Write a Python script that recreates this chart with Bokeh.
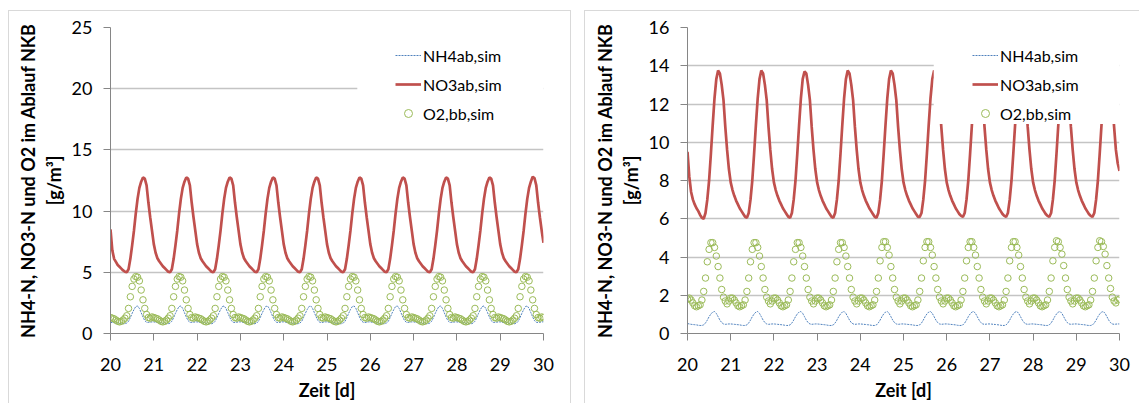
from bokeh.plotting import figure
from bokeh.models import (Range1d, FixedTicker, Legend, LegendItem, BoxAnnotation)
from bokeh.layouts import row
from bokeh.embed import file_html
from bokeh.resources import INLINE

# ---------------- data (hourly values, Tag 20 .. 30) ----------------
zeit = [20 + h / 24 for h in range(241)]

x_ticks = [20, 21, 22, 23, 24, 25, 26, 27, 28, 29, 30]
y_ticks_links = [0, 5, 10, 15, 20, 25]
y_ticks_rechts = [0, 2, 4, 6, 8, 10, 12, 14, 16]

# left chart
no3_links = [
    8.5, 6.8, 6.1, 5.85, 5.6, 5.45, 5.3, 5.15, 5.05, 5.0, 5.25, 6.1, 7.2, 8.4, 9.8, 11.0, 11.9, 12.4, 12.75, 12.65, 12.1, 10.7, 9.5, 8.4,
    7.3, 6.6, 6.15, 5.9, 5.7, 5.5, 5.35, 5.2, 5.05, 5.0, 5.25, 6.1, 7.2, 8.4, 9.8, 11.0, 11.9, 12.4, 12.75, 12.65, 12.1, 10.7, 9.5, 8.4,
    7.3, 6.6, 6.15, 5.9, 5.7, 5.5, 5.35, 5.2, 5.05, 5.0, 5.25, 6.1, 7.2, 8.4, 9.8, 11.0, 11.9, 12.4, 12.75, 12.65, 12.1, 10.7, 9.5, 8.4,
    7.3, 6.6, 6.15, 5.9, 5.7, 5.5, 5.35, 5.2, 5.05, 5.0, 5.25, 6.1, 7.2, 8.4, 9.8, 11.0, 11.9, 12.4, 12.75, 12.65, 12.1, 10.7, 9.5, 8.4,
    7.3, 6.6, 6.15, 5.9, 5.7, 5.5, 5.35, 5.2, 5.05, 5.0, 5.25, 6.1, 7.2, 8.4, 9.8, 11.0, 11.9, 12.4, 12.75, 12.65, 12.1, 10.7, 9.5, 8.4,
    7.3, 6.6, 6.15, 5.9, 5.7, 5.5, 5.35, 5.2, 5.05, 5.0, 5.25, 6.1, 7.2, 8.4, 9.8, 11.0, 11.9, 12.4, 12.75, 12.65, 12.1, 10.7, 9.5, 8.4,
    7.3, 6.6, 6.15, 5.9, 5.7, 5.5, 5.35, 5.2, 5.05, 5.0, 5.25, 6.1, 7.2, 8.4, 9.8, 11.0, 11.9, 12.4, 12.75, 12.65, 12.1, 10.7, 9.5, 8.4,
    7.3, 6.6, 6.15, 5.9, 5.7, 5.5, 5.35, 5.2, 5.05, 5.0, 5.25, 6.1, 7.2, 8.4, 9.8, 11.0, 11.9, 12.4, 12.75, 12.65, 12.1, 10.7, 9.5, 8.4,
    7.3, 6.6, 6.15, 5.9, 5.7, 5.5, 5.35, 5.2, 5.05, 5.0, 5.25, 6.1, 7.2, 8.4, 9.8, 11.0, 11.9, 12.4, 12.75, 12.65, 12.1, 10.7, 9.5, 8.4,
    7.3, 6.6, 6.15, 5.9, 5.7, 5.5, 5.35, 5.2, 5.05, 5.0, 5.25, 6.1, 7.2, 8.4, 9.8, 11.0, 11.9, 12.4, 12.8, 12.7, 12.1, 10.7, 9.5, 8.4,
    7.4,
]
o2_links = [
    1.3, 1.25, 1.2, 1.1, 1.0, 0.95, 1.0, 1.1, 1.25, 1.45, 2.05, 3.0, 3.85, 4.45, 4.65, 4.6, 4.3, 3.55, 2.75, 2.05, 1.55, 1.3, 1.25, 1.35,
    1.3, 1.25, 1.2, 1.1, 1.0, 0.95, 1.0, 1.1, 1.25, 1.45, 2.05, 3.0, 3.85, 4.45, 4.65, 4.6, 4.3, 3.55, 2.75, 2.05, 1.55, 1.3, 1.25, 1.35,
    1.3, 1.25, 1.2, 1.1, 1.0, 0.95, 1.0, 1.1, 1.25, 1.45, 2.05, 3.0, 3.85, 4.45, 4.65, 4.6, 4.3, 3.55, 2.75, 2.05, 1.55, 1.3, 1.25, 1.35,
    1.3, 1.25, 1.2, 1.1, 1.0, 0.95, 1.0, 1.1, 1.25, 1.45, 2.05, 3.0, 3.85, 4.45, 4.65, 4.6, 4.3, 3.55, 2.75, 2.05, 1.55, 1.3, 1.25, 1.35,
    1.3, 1.25, 1.2, 1.1, 1.0, 0.95, 1.0, 1.1, 1.25, 1.45, 2.05, 3.0, 3.85, 4.45, 4.65, 4.6, 4.3, 3.55, 2.75, 2.05, 1.55, 1.3, 1.25, 1.35,
    1.3, 1.25, 1.2, 1.1, 1.0, 0.95, 1.0, 1.1, 1.25, 1.45, 2.05, 3.0, 3.85, 4.45, 4.65, 4.6, 4.3, 3.55, 2.75, 2.05, 1.55, 1.3, 1.25, 1.35,
    1.3, 1.25, 1.2, 1.1, 1.0, 0.95, 1.0, 1.1, 1.25, 1.45, 2.05, 3.0, 3.85, 4.45, 4.65, 4.6, 4.3, 3.55, 2.75, 2.05, 1.55, 1.3, 1.25, 1.35,
    1.3, 1.25, 1.2, 1.1, 1.0, 0.95, 1.0, 1.1, 1.25, 1.45, 2.05, 3.0, 3.85, 4.45, 4.65, 4.6, 4.3, 3.55, 2.75, 2.05, 1.55, 1.3, 1.25, 1.35,
    1.3, 1.25, 1.2, 1.1, 1.0, 0.95, 1.0, 1.1, 1.25, 1.45, 2.05, 3.0, 3.85, 4.45, 4.65, 4.6, 4.3, 3.55, 2.75, 2.05, 1.55, 1.3, 1.25, 1.35,
    1.3, 1.25, 1.2, 1.1, 1.0, 0.95, 1.0, 1.1, 1.25, 1.45, 2.05, 3.0, 3.85, 4.45, 4.65, 4.6, 4.3, 3.55, 2.75, 2.05, 1.55, 1.3, 1.25, 1.35,
    1.3,
]
nh4_links = [
    0.9, 0.9, 0.88, 0.86, 0.85, 0.84, 0.82, 0.8, 0.8, 0.85, 1.0, 1.3, 1.65, 1.95, 2.2, 2.25, 2.05, 1.7, 1.35, 1.05, 0.92, 0.9, 0.92, 0.95,
    0.95, 0.92, 0.9, 0.88, 0.86, 0.84, 0.82, 0.8, 0.8, 0.85, 1.0, 1.3, 1.65, 1.95, 2.2, 2.25, 2.05, 1.7, 1.35, 1.05, 0.92, 0.9, 0.92, 0.95,
    0.95, 0.92, 0.9, 0.88, 0.86, 0.84, 0.82, 0.8, 0.8, 0.85, 1.0, 1.3, 1.65, 1.95, 2.2, 2.25, 2.05, 1.7, 1.35, 1.05, 0.92, 0.9, 0.92, 0.95,
    0.95, 0.92, 0.9, 0.88, 0.86, 0.84, 0.82, 0.8, 0.8, 0.85, 1.0, 1.3, 1.65, 1.95, 2.2, 2.25, 2.05, 1.7, 1.35, 1.05, 0.92, 0.9, 0.92, 0.95,
    0.95, 0.92, 0.9, 0.88, 0.86, 0.84, 0.82, 0.8, 0.8, 0.85, 1.0, 1.3, 1.65, 1.95, 2.2, 2.25, 2.05, 1.7, 1.35, 1.05, 0.92, 0.9, 0.92, 0.95,
    0.95, 0.92, 0.9, 0.88, 0.86, 0.84, 0.82, 0.8, 0.8, 0.85, 1.0, 1.3, 1.65, 1.95, 2.2, 2.25, 2.05, 1.7, 1.35, 1.05, 0.92, 0.9, 0.92, 0.95,
    0.95, 0.92, 0.9, 0.88, 0.86, 0.84, 0.82, 0.8, 0.8, 0.85, 1.0, 1.3, 1.65, 1.95, 2.2, 2.25, 2.05, 1.7, 1.35, 1.05, 0.92, 0.9, 0.92, 0.95,
    0.95, 0.92, 0.9, 0.88, 0.86, 0.84, 0.82, 0.8, 0.8, 0.85, 1.0, 1.3, 1.65, 1.95, 2.2, 2.25, 2.05, 1.7, 1.35, 1.05, 0.92, 0.9, 0.92, 0.95,
    0.95, 0.92, 0.9, 0.88, 0.86, 0.84, 0.82, 0.8, 0.8, 0.85, 1.0, 1.3, 1.65, 1.95, 2.2, 2.25, 2.05, 1.7, 1.35, 1.05, 0.92, 0.9, 0.92, 0.95,
    0.95, 0.92, 0.9, 0.88, 0.86, 0.84, 0.82, 0.8, 0.8, 0.85, 1.0, 1.3, 1.65, 1.95, 2.2, 2.25, 2.05, 1.7, 1.35, 1.05, 0.92, 0.9, 0.92, 0.95,
    0.95,
]

# right chart
no3_rechts = [
    9.5, 8.2, 7.4, 7.0, 6.75, 6.55, 6.4, 6.2, 6.05, 6.0, 6.3, 7.0, 8.0, 9.4, 10.9, 12.3, 13.3, 13.75, 13.6, 13.0, 12.2, 10.8, 9.6, 8.6,
    7.9, 7.5, 7.2, 6.95, 6.75, 6.55, 6.4, 6.25, 6.1, 6.05, 6.3, 7.0, 8.0, 9.4, 10.9, 12.3, 13.3, 13.75, 13.6, 13.0, 12.2, 10.8, 9.6, 8.6,
    7.9, 7.5, 7.2, 6.95, 6.75, 6.55, 6.4, 6.25, 6.1, 6.05, 6.3, 7.0, 8.0, 9.4, 10.9, 12.3, 13.3, 13.7, 13.6, 13.0, 12.2, 10.8, 9.6, 8.6,
    7.9, 7.5, 7.2, 6.95, 6.75, 6.55, 6.4, 6.25, 6.1, 6.05, 6.3, 7.0, 8.0, 9.4, 10.9, 12.3, 13.3, 13.75, 13.6, 13.0, 12.2, 10.8, 9.6, 8.6,
    7.9, 7.5, 7.2, 6.95, 6.75, 6.55, 6.4, 6.25, 6.1, 6.05, 6.3, 7.0, 8.0, 9.4, 10.9, 12.3, 13.3, 13.75, 13.6, 13.0, 12.2, 10.8, 9.6, 8.6,
    7.9, 7.5, 7.2, 6.95, 6.75, 6.55, 6.4, 6.25, 6.1, 6.1, 6.3, 7.0, 8.0, 9.4, 10.9, 12.3, 13.3, 13.75, 13.6, 13.0, 12.2, 10.8, 9.6, 8.6,
    7.9, 7.5, 7.2, 6.95, 6.75, 6.55, 6.4, 6.25, 6.15, 6.1, 6.3, 7.0, 8.0, 9.4, 10.9, 12.3, 13.3, 13.75, 13.6, 13.0, 12.2, 10.8, 9.6, 8.6,
    7.9, 7.5, 7.2, 6.95, 6.75, 6.55, 6.4, 6.25, 6.15, 6.1, 6.3, 7.0, 8.0, 9.4, 10.9, 12.3, 13.3, 13.75, 13.6, 13.0, 12.2, 10.8, 9.6, 8.6,
    7.9, 7.5, 7.2, 6.95, 6.75, 6.55, 6.4, 6.25, 6.15, 6.1, 6.3, 7.0, 8.0, 9.4, 10.9, 12.3, 13.3, 13.75, 13.6, 13.0, 12.2, 10.8, 9.6, 8.6,
    7.9, 7.5, 7.2, 6.95, 6.75, 6.55, 6.4, 6.25, 6.15, 6.1, 6.3, 7.0, 8.0, 9.4, 10.9, 12.3, 13.3, 13.75, 13.6, 13.0, 12.2, 10.8, 9.6, 8.9,
    8.5,
]
o2_rechts = [
    1.8, 1.85, 1.75, 1.6, 1.45, 1.4, 1.45, 1.5, 1.75, 2.2, 2.9, 3.75, 4.4, 4.75, 4.75, 4.5, 4.05, 3.5, 2.9, 2.3, 1.9, 1.7, 1.55, 1.7,
    1.85, 1.85, 1.75, 1.6, 1.45, 1.4, 1.45, 1.5, 1.75, 2.2, 2.9, 3.75, 4.4, 4.75, 4.75, 4.5, 4.05, 3.5, 2.9, 2.3, 1.9, 1.7, 1.55, 1.7,
    1.85, 1.85, 1.75, 1.6, 1.45, 1.4, 1.45, 1.5, 1.75, 2.2, 2.9, 3.75, 4.4, 4.75, 4.75, 4.5, 4.05, 3.5, 2.9, 2.3, 1.9, 1.7, 1.55, 1.7,
    1.85, 1.85, 1.75, 1.6, 1.45, 1.4, 1.45, 1.5, 1.75, 2.2, 2.9, 3.75, 4.4, 4.75, 4.75, 4.5, 4.05, 3.5, 2.9, 2.3, 1.9, 1.7, 1.55, 1.7,
    1.85, 1.85, 1.75, 1.6, 1.45, 1.4, 1.45, 1.5, 1.75, 2.2, 2.9, 3.8, 4.5, 4.8, 4.8, 4.5, 4.1, 3.5, 2.9, 2.3, 1.9, 1.7, 1.55, 1.7,
    1.85, 1.85, 1.75, 1.6, 1.45, 1.4, 1.45, 1.5, 1.75, 2.2, 2.9, 3.8, 4.5, 4.8, 4.8, 4.5, 4.1, 3.5, 2.9, 2.3, 1.9, 1.7, 1.55, 1.7,
    1.85, 1.85, 1.75, 1.6, 1.45, 1.4, 1.45, 1.5, 1.75, 2.2, 2.9, 3.8, 4.5, 4.8, 4.8, 4.5, 4.1, 3.5, 2.9, 2.3, 1.9, 1.7, 1.55, 1.7,
    1.85, 1.85, 1.75, 1.6, 1.45, 1.4, 1.45, 1.5, 1.75, 2.2, 2.9, 3.8, 4.5, 4.8, 4.8, 4.5, 4.1, 3.5, 2.9, 2.3, 1.9, 1.7, 1.55, 1.7,
    1.85, 1.85, 1.75, 1.6, 1.45, 1.4, 1.45, 1.5, 1.75, 2.2, 2.9, 3.8, 4.5, 4.85, 4.8, 4.5, 4.15, 3.55, 2.9, 2.3, 1.9, 1.7, 1.55, 1.7,
    1.85, 1.85, 1.75, 1.6, 1.45, 1.4, 1.45, 1.5, 1.75, 2.2, 2.9, 3.8, 4.5, 4.85, 4.8, 4.55, 4.15, 3.55, 2.9, 2.35, 1.9, 1.7, 1.6, 1.75,
    1.8,
]
nh4_rechts = [
    0.52, 0.5, 0.48, 0.47, 0.46, 0.45, 0.43, 0.42, 0.42, 0.45, 0.55, 0.7, 0.88, 1.02, 1.12, 1.15, 1.05, 0.88, 0.7, 0.57, 0.5, 0.48, 0.49, 0.5,
    0.5, 0.49, 0.48, 0.47, 0.46, 0.45, 0.43, 0.42, 0.42, 0.45, 0.55, 0.7, 0.88, 1.02, 1.12, 1.15, 1.05, 0.88, 0.7, 0.57, 0.5, 0.48, 0.49, 0.5,
    0.5, 0.49, 0.48, 0.47, 0.46, 0.45, 0.43, 0.42, 0.42, 0.45, 0.55, 0.7, 0.88, 1.02, 1.12, 1.15, 1.05, 0.88, 0.7, 0.57, 0.5, 0.48, 0.49, 0.5,
    0.5, 0.49, 0.48, 0.47, 0.46, 0.45, 0.43, 0.42, 0.42, 0.45, 0.55, 0.7, 0.88, 1.02, 1.12, 1.15, 1.05, 0.88, 0.7, 0.57, 0.5, 0.48, 0.49, 0.5,
    0.5, 0.49, 0.48, 0.47, 0.46, 0.45, 0.43, 0.42, 0.42, 0.45, 0.55, 0.7, 0.88, 1.02, 1.12, 1.15, 1.05, 0.88, 0.7, 0.57, 0.5, 0.48, 0.49, 0.5,
    0.5, 0.49, 0.48, 0.47, 0.46, 0.45, 0.43, 0.42, 0.42, 0.45, 0.55, 0.7, 0.88, 1.02, 1.12, 1.15, 1.05, 0.88, 0.7, 0.57, 0.5, 0.48, 0.49, 0.5,
    0.5, 0.49, 0.48, 0.47, 0.46, 0.45, 0.43, 0.42, 0.42, 0.45, 0.55, 0.7, 0.88, 1.02, 1.12, 1.15, 1.05, 0.88, 0.7, 0.57, 0.5, 0.48, 0.49, 0.5,
    0.5, 0.49, 0.48, 0.47, 0.46, 0.45, 0.43, 0.42, 0.42, 0.45, 0.55, 0.7, 0.88, 1.02, 1.12, 1.15, 1.05, 0.88, 0.7, 0.57, 0.5, 0.48, 0.49, 0.5,
    0.5, 0.49, 0.48, 0.47, 0.46, 0.45, 0.43, 0.42, 0.42, 0.45, 0.55, 0.7, 0.88, 1.02, 1.12, 1.15, 1.05, 0.88, 0.7, 0.57, 0.5, 0.48, 0.49, 0.5,
    0.5, 0.49, 0.48, 0.47, 0.46, 0.45, 0.43, 0.42, 0.42, 0.45, 0.55, 0.7, 0.88, 1.02, 1.12, 1.15, 1.05, 0.88, 0.7, 0.57, 0.5, 0.48, 0.49, 0.5,
    0.5,
]

legend_labels = ["NH4ab,sim", "NO3ab,sim", "O2,bb,sim"]
y_label = "NH4-N, NO3-N und O2 im Ablauf NKB\n[g/m³]"
x_label = "Zeit [d]"

# ---------------- styling ----------------
FONT = "Lato"
RED = "#c0504d"
BLUE = "#4f81bd"
GREEN = "#9bbb59"
AXIS_GREY = "#868686"
GRID_GREY = "#c4c4c4"


def make_panel(no3, o2, nh4, ymax, yticks, left_border, right_border,
               box_bottom, box_top, border_style):
    p = figure(frame_width=431, frame_height=305,
               min_border_left=left_border, min_border_right=right_border,
               min_border_top=16, min_border_bottom=71,
               x_range=Range1d(20, 30), y_range=Range1d(0, ymax),
               output_backend="svg", toolbar_location=None,
               background_fill_color="white", border_fill_color="white",
               outline_line_color=None)
    p.styles = border_style

    r_nh4 = p.line(zeit, nh4, line_color=BLUE, line_width=1, line_dash="2 1")
    r_no3 = p.line(zeit, no3, line_color=RED, line_width=2.7)
    r_o2 = p.scatter(zeit, o2, marker="circle", size=6.5, fill_color=None,
                     line_color=GREEN, line_width=1)

    # white legend area (hides grid lines / curve underneath as in the original)
    p.add_layout(BoxAnnotation(left=25.7, right=30, bottom=box_bottom, top=box_top,
                               fill_color="white", fill_alpha=1.0,
                               line_color=None))

    legend = Legend(items=[LegendItem(label=legend_labels[0], renderers=[r_nh4]),
                           LegendItem(label=legend_labels[1], renderers=[r_no3]),
                           LegendItem(label=legend_labels[2], renderers=[r_o2])],
                    location=(285, 210), margin=0, padding=4, spacing=9,
                    label_height=20, glyph_height=20, glyph_width=26,
                    label_standoff=2, background_fill_alpha=0,
                    border_line_color=None,
                    label_text_font=FONT, label_text_font_size="16px",
                    label_text_color="#000000")
    p.add_layout(legend)

    # axes
    p.xaxis.ticker = FixedTicker(ticks=x_ticks)
    p.yaxis.ticker = FixedTicker(ticks=yticks)
    for ax in (p.xaxis[0], p.yaxis[0]):
        ax.axis_line_color = AXIS_GREY
        ax.major_tick_line_color = AXIS_GREY
        ax.minor_tick_line_color = None
        ax.major_tick_out = 7
        ax.major_tick_in = 0
        ax.major_label_text_font = FONT
        ax.major_label_text_font_size = "18px"
        ax.major_label_text_color = "#000000"
        ax.axis_label_text_font = FONT
        ax.axis_label_text_font_style = "bold"
        ax.axis_label_text_font_size = "18px"
        ax.axis_label_text_color = "#000000"
    p.xaxis.axis_label = x_label
    p.yaxis.axis_label = y_label
    p.xaxis.major_label_standoff = 17
    p.xaxis.axis_label_standoff = 5
    p.yaxis.major_label_standoff = 11
    p.yaxis.axis_label_standoff = 4
    p.yaxis.axis_label_text_line_height = 1.15

    p.xgrid.grid_line_color = None
    p.ygrid.grid_line_color = GRID_GREY
    p.ygrid.grid_line_width = 1.3
    return p


p1 = make_panel(no3_links, o2_links, nh4_links, 25, y_ticks_links, 101, 29,
                17.2, 24.3,
                {"border-top": "1px solid #d9d9d9", "border-left": "1px solid #d9d9d9",
                 "border-right": "1px solid #d9d9d9"})
p2 = make_panel(no3_rechts, o2_rechts, nh4_rechts, 16, y_ticks_rechts, 102, 21,
                10.95, 15.4,
                {"border-top": "1px solid #d9d9d9", "border-left": "1px solid #d9d9d9"})
p1.margin = (10, 0, 0, 8)
p2.margin = (10, 0, 0, 13)

layout = row(p1, p2)
layout.margin = 0

open("out.html", "w").write(file_html(layout, INLINE))
